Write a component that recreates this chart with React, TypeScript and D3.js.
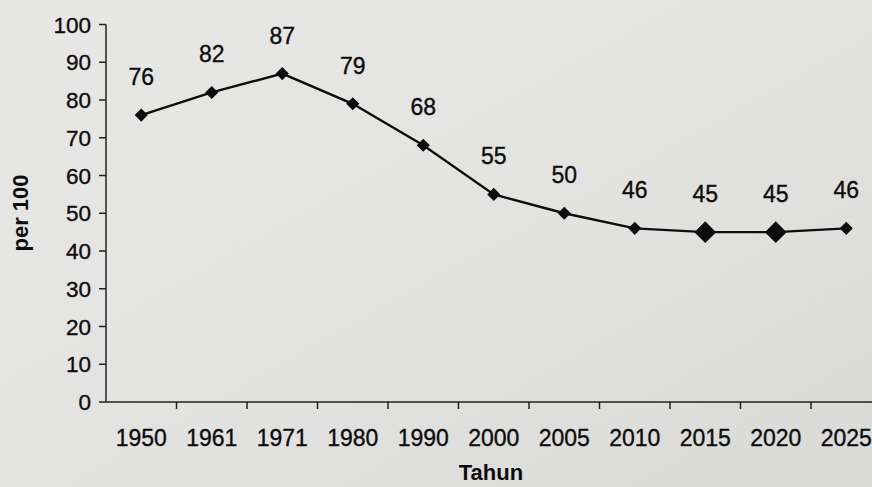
import React from "react";
import * as d3 from "d3";

const years = ["1950", "1961", "1971", "1980", "1990", "2000", "2005", "2010", "2015", "2020", "2025"];
const values = [76, 82, 87, 79, 68, 55, 50, 46, 45, 45, 46];
const bigMarkers = ["2015", "2020"];
const yTicks = [0, 10, 20, 30, 40, 50, 60, 70, 80, 90, 100];

const W = 872;
const H = 487;
const m = { left: 106, top: 24.5 };

export default function App() {
  const x = d3.scaleBand<string>().domain(years).range([m.left, m.left + 775.5]);
  const y = d3.scaleLinear().domain([0, 100]).range([402, 24.5]);
  const cx = (d: string) => (x(d) ?? 0) + x.bandwidth() / 2;
  const line = d3
    .line<number>()
    .x((_, i) => cx(years[i]))
    .y((v) => y(v));
  const diamond = d3.symbol().type(d3.symbolDiamond2);
  const font = "'Liberation Sans', Arial, sans-serif";
  const ink = "#0d0d0d";
  const txt = { fill: ink, stroke: ink, strokeWidth: 0.35 };
  return (
    <svg
      width={W}
      height={H}
      style={{ position: "absolute", left: 0, top: 0, display: "block" }}
      fontFamily={font}
    >
      <defs>
        <linearGradient id="paper" x1="0" y1="0" x2="1" y2="1">
          <stop offset="0" stopColor="#e7e7e5" />
          <stop offset="0.5" stopColor="#e3e3e1" />
          <stop offset="1" stopColor="#d9d9d7" />
        </linearGradient>
      </defs>
      <rect width={W} height={H} fill="url(#paper)" />
      {/* y axis */}
      <line x1={m.left} x2={m.left} y1={y(100)} y2={y(0)} stroke="#222" strokeWidth={1.5} />
      {yTicks.map((t) => (
        <g key={t}>
          <line x1={m.left - 7} x2={m.left} y1={y(t)} y2={y(t)} stroke="#222" strokeWidth={1.5} />
          <text x={91} y={y(t)} dy="0.36em" textAnchor="end" fontSize={22.5} {...txt}>
            {t}
          </text>
        </g>
      ))}
      {/* x axis */}
      <line x1={m.left} x2={W} y1={y(0)} y2={y(0)} stroke="#222" strokeWidth={1.5} />
      {years.map((yr, i) => (
        <g key={yr}>
          {i > 0 && (
            <line x1={x(yr)} x2={x(yr)} y1={y(0)} y2={y(0) + 7} stroke="#222" strokeWidth={1.5} />
          )}
          <text x={cx(yr)} y={446} textAnchor="middle" fontSize={23} {...txt}>
            {yr}
          </text>
        </g>
      ))}
      {/* line */}
      <path d={line(values) ?? ""} fill="none" stroke={ink} strokeWidth={2.4} />
      {values.map((v, i) => {
        const big = bigMarkers.includes(years[i]);
        return (
          <path
            key={years[i]}
            transform={`translate(${cx(years[i])},${y(v)})`}
            d={diamond.size(big ? 300 : 110)() ?? ""}
            fill={ink}
          />
        );
      })}
      {values.map((v, i) => (
        <text key={"l" + i} x={cx(years[i])} y={y(v) - 30} textAnchor="middle" fontSize={23} {...txt}>
          {v}
        </text>
      ))}
      <text
        transform={`translate(28,213) rotate(-90)`}
        textAnchor="middle"
        fontSize={22}
        fontWeight="bold"
        fill={ink}
      >
        per 100
      </text>
      <text x={491} y={480} textAnchor="middle" fontSize={22} fontWeight="bold" fill={ink}>
        Tahun
      </text>
    </svg>
  );
}
